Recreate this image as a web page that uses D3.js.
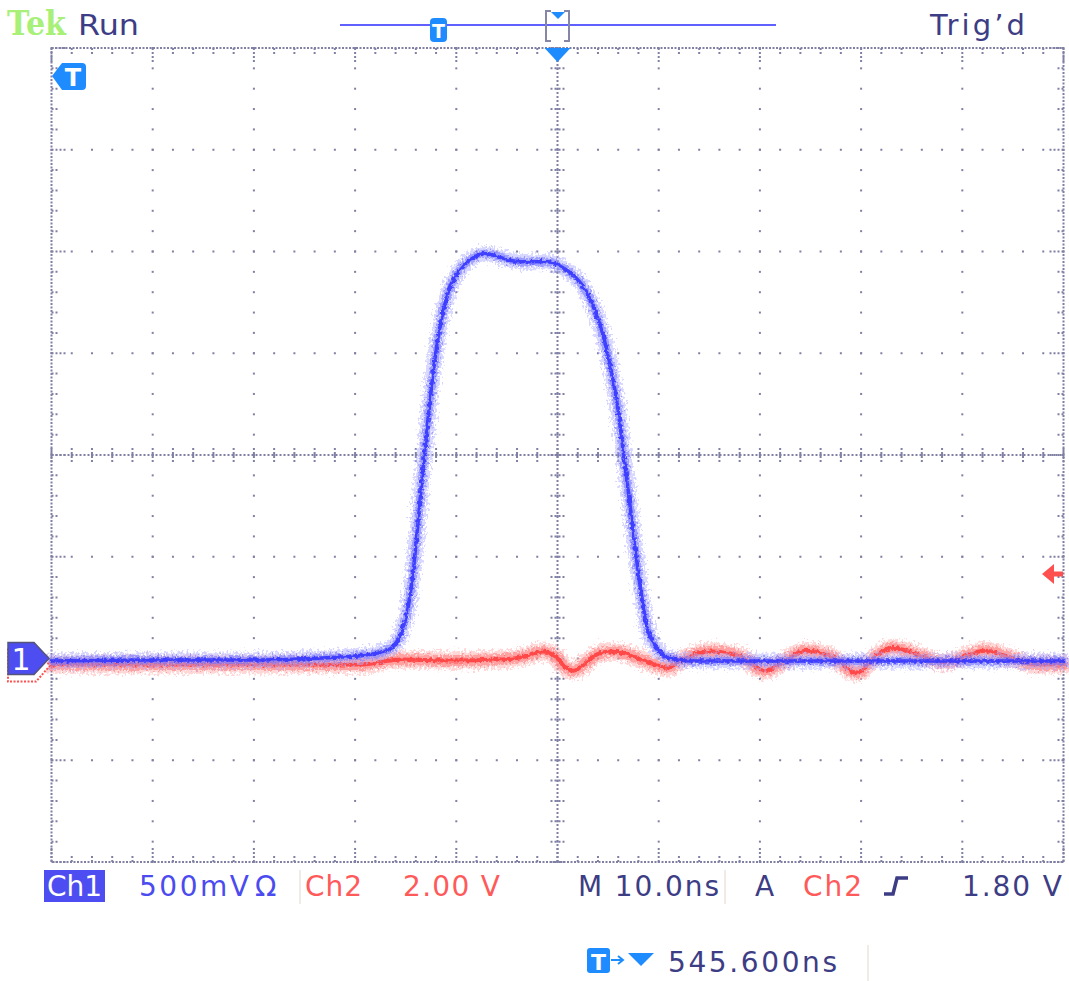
<!DOCTYPE html>
<html>
<head>
<meta charset="utf-8">
<script src="https://cdn.jsdelivr.net/npm/d3@7"></script>
<style>
  body { margin: 0; background: #fff; }
  svg text { font-family: "DejaVu Sans", sans-serif; }
</style>
</head>
<body>
<div id="chart"></div>
<script>
// channel 1 (500 mV/div), time in ns from screen centre
var ch1Time = [-50, -40.3, -30.4, -25.4, -21.5, -19.0, -17.0, -16.1, -15.4, -14.8, -14.3, -13.8, -13.3, -12.8,
  -12.2, -11.5, -10.8, -9.8, -8.6, -7.2, -6.2, -4.9, -3.7, -2.2, -0.9, 0.2, 1.4, 2.5, 3.7, 4.5, 5.2, 5.9,
  6.5, 7.1, 7.7, 8.3, 8.8, 9.4, 10.1, 11.1, 13.1, 24.0, 50];
var ch1Volts = [-0.012, -0.007, -0.007, -0.002, 0.007, 0.017, 0.037, 0.066, 0.13, 0.24, 0.41, 0.66, 0.93, 1.17,
  1.44, 1.66, 1.80, 1.90, 1.96, 1.99, 1.98, 1.96, 1.95, 1.95, 1.95, 1.93, 1.89, 1.83, 1.71, 1.59, 1.44, 1.25,
  1.02, 0.78, 0.53, 0.31, 0.16, 0.086, 0.032, 0.002, -0.012, -0.012, -0.012];

// channel 2 (2.00 V/div)
var ch2Time = [-50, -35, -19.5, -15.6, -10.6, -5.7, -3.2, -1.5, -0.2, 0.7, 1.6, 2.7, 3.9, 5.2, 6.7, 8.2, 9.6,
  10.9, 12.1, 15.1, 18.1, 20.5, 22.5, 24.5, 27.0, 29.6, 31.4, 33.1, 35.8, 38.3, 40.3, 42.2, 44.7, 47.2, 50];
var ch2Volts = [0.02, 0.02, 0.02, 0.12, 0.10, 0.12, 0.18, 0.28, 0.18, -0.02, -0.10, 0.04, 0.22, 0.28, 0.24, 0.12, 0.02,
  -0.04, 0.10, 0.28, 0.18, -0.10, 0.10, 0.29, 0.18, -0.14, 0.18, 0.35, 0.20, 0.06, 0.18, 0.29, 0.16, 0.02, 0.02];

var ch1Scale = 0.5, ch1Pos = -2;      // V/div, divisions
var ch2Scale = 2.0, ch2Pos = -2.07;
var trigLevel = 1.80;

var bottomLabels = [
  {text: "500mV", x0: 139, x1: 249, color: "#4b4bf0"},
  {text: "Ω", x0: 255, x1: 290, color: "#4b4bf0"},
  {text: "Ch2", x0: 305, x1: 362, color: "#ff5a5a"},
  {text: "2.00 V", x0: 403, x1: 500, color: "#ff5a5a"},
  {text: "M 10.0ns", x0: 578, x1: 719, color: "#3d3d85"},
  {text: "A", x0: 755, x1: 776, color: "#3d3d85"},
  {text: "Ch2", x0: 803, x1: 862, color: "#ff5a5a"},
  {text: "1.80 V", x0: 962, x1: 1062, color: "#3d3d85"}
];

var W = 1069, H = 981;
var gLeft = 51.5, gRight = 1063.5, gTop = 48, gBottom = 862;

var x = d3.scaleLinear().domain([-50, 50]).range([gLeft, gRight]);
var yDiv = d3.scaleLinear().domain([-4, 4]).range([gBottom, gTop]);
var y1 = d3.scaleLinear().domain([(-4 - ch1Pos) * ch1Scale, (4 - ch1Pos) * ch1Scale]).range([gBottom, gTop]);
var y2 = d3.scaleLinear().domain([(-4 - ch2Pos) * ch2Scale, (4 - ch2Pos) * ch2Scale]).range([gBottom, gTop]);

var svg = d3.select('#chart').append('svg')
  .attr('width', W).attr('height', H);

svg.append('rect').attr('width', W).attr('height', H).attr('fill', '#fff');

var defs = svg.append('defs');
function noiseFilter(id, freq, scale, seed) {
  var f = defs.append('filter').attr('id', id)
    .attr('filterUnits', 'userSpaceOnUse')
    .attr('x', 0).attr('y', 0).attr('width', W).attr('height', H);
  f.append('feTurbulence').attr('type', 'fractalNoise')
    .attr('baseFrequency', freq).attr('numOctaves', 2).attr('seed', seed).attr('result', 'n');
  f.append('feDisplacementMap').attr('in', 'SourceGraphic').attr('in2', 'n')
    .attr('scale', scale).attr('xChannelSelector', 'R').attr('yChannelSelector', 'G');
}
noiseFilter('noiseWide', '0.45 0.35', 15, 3);
noiseFilter('noiseMid', '0.5 0.4', 10, 7);
noiseFilter('noiseCore', '0.3 0.3', 5, 11);

// ---- graticule ----
var grid = svg.append('g').attr('fill', '#8080a4');
var xMajor = d3.range(0, 11).map(function(i) { return gLeft + i * (gRight - gLeft) / 10; });
var yMajor = d3.range(0, 9).map(function(i) { return gTop + i * (gBottom - gTop) / 8; });
var xMinor = d3.range(0, 51).map(function(i) { return gLeft + i * (gRight - gLeft) / 50; });
var yMinor = d3.range(0, 41).map(function(i) { return gTop + i * (gBottom - gTop) / 40; });

// dots along each interior grid line
var pts = [];
xMajor.slice(1, 10).forEach(function(gx) { yMinor.forEach(function(gy) { pts.push([gx, gy]); }); });
yMajor.slice(1, 8).forEach(function(gy) { xMinor.forEach(function(gx) { pts.push([gx, gy]); }); });
grid.selectAll('rect.dot').data(pts).enter().append('rect')
  .attr('class', 'dot')
  .attr('x', function(d) { return d[0] - 1; })
  .attr('y', function(d) { return d[1] - 1; })
  .attr('width', 2).attr('height', 2);

// border
svg.append('rect')
  .attr('x', gLeft).attr('y', gTop)
  .attr('width', gRight - gLeft).attr('height', gBottom - gTop)
  .attr('fill', 'none').attr('stroke', '#8080a4').attr('stroke-width', 2)
  .attr('stroke-dasharray', '2 1.5');

// border ticks
var ticks = svg.append('g').attr('stroke', '#8080a4').attr('stroke-width', 2).attr('stroke-dasharray', '2 2');
function isMajor(i) { return i % 5 === 0; }
xMinor.forEach(function(gx, i) {
  var len = isMajor(i) ? 14 : 6;
  ticks.append('line').attr('x1', gx).attr('x2', gx).attr('y1', gTop).attr('y2', gTop + len);
  ticks.append('line').attr('x1', gx).attr('x2', gx).attr('y1', gBottom).attr('y2', gBottom - len);
});
yMinor.forEach(function(gy, i) {
  var len = isMajor(i) ? 14 : 6;
  ticks.append('line').attr('y1', gy).attr('y2', gy).attr('x1', gLeft).attr('x2', gLeft + len);
  ticks.append('line').attr('y1', gy).attr('y2', gy).attr('x1', gRight).attr('x2', gRight - len);
});

// centre crosshair
var cx = x(0), cy = yDiv(0);
var cross = svg.append('g').attr('stroke', '#8080a4').attr('stroke-width', 2).attr('stroke-dasharray', '2 2');
cross.append('line').attr('x1', gLeft).attr('x2', gRight).attr('y1', cy).attr('y2', cy);
cross.append('line').attr('x1', cx).attr('x2', cx).attr('y1', gTop).attr('y2', gBottom);
xMinor.forEach(function(gx) {
  cross.append('line').attr('x1', gx).attr('x2', gx).attr('y1', cy - 7).attr('y2', cy + 7);
});
yMinor.forEach(function(gy) {
  cross.append('line').attr('y1', gy).attr('y2', gy).attr('x1', cx - 7).attr('x2', cx + 7);
});

// ---- traces ----
function drawTrace(times, volts, ys, colors, widths) {
  var line = d3.line()
    .x(function(d) { return x(d[0]); })
    .y(function(d) { return ys(d[1]); })
    .curve(d3.curveMonotoneX);
  var data = times.map(function(t, i) { return [t, volts[i]]; });
  var g = svg.append('g').attr('fill', 'none').attr('stroke-linejoin', 'round').attr('stroke-linecap', 'round');
  g.append('path').datum(data).attr('d', line)
    .attr('stroke', colors[0]).attr('stroke-width', widths[0]).attr('opacity', 0.5)
    .attr('filter', 'url(#noiseWide)');
  g.append('path').datum(data).attr('d', line)
    .attr('stroke', colors[1]).attr('stroke-width', widths[1]).attr('opacity', 0.55)
    .attr('filter', 'url(#noiseMid)');
  g.append('path').datum(data).attr('d', line)
    .attr('stroke', colors[2]).attr('stroke-width', widths[2]).attr('opacity', 0.9)
    .attr('filter', 'url(#noiseCore)');
}
drawTrace(ch2Time, ch2Volts, y2, ['#ffb0b0', '#ff7474', '#ff4040'], [18, 11, 4]);
drawTrace(ch1Time, ch1Volts, y1, ['#b0b0ff', '#7070ff', '#3434ff'], [15, 8, 3.5]);

// ---- markers ----
// ch2 ground marker (mostly hidden)
var g2y = y2(0);
svg.append('path')
  .attr('d', 'M8,' + (g2y - 16) + ' H36 L50,' + g2y + ' L36,' + (g2y + 16) + ' H8 Z')
  .attr('fill', '#fff').attr('stroke', '#ff5050').attr('stroke-width', 2).attr('stroke-dasharray', '2 1.5');
// ch1 ground marker
var g1y = y1(0);
svg.append('path')
  .attr('d', 'M8,' + (g1y - 16) + ' H34 L49,' + g1y + ' L34,' + (g1y + 16) + ' H8 Z')
  .attr('fill', '#4d4df2').attr('stroke', '#55557a').attr('stroke-width', 1.5);
svg.append('text').attr('x', 21).attr('y', g1y + 11)
  .attr('text-anchor', 'middle').attr('fill', '#fff')
  .style('font-size', '30px').text('1');

// trigger level arrow (right)
var ty = y2(trigLevel);
svg.append('path')
  .attr('d', 'M1042,' + ty + ' L1054,' + (ty - 10) + ' V' + (ty - 2.5) + ' H1063 V' + (ty + 2.5) + ' H1054 V' + (ty + 10) + ' Z')
  .attr('fill', '#ff5050');

// trigger position T (left)
svg.append('path')
  .attr('d', 'M52,76 L62,63 H82 Q86,63 86,67 V86 Q86,90 82,90 H62 Z')
  .attr('fill', '#1e8cff');
svg.append('text').attr('x', 73).attr('y', 86).attr('text-anchor', 'middle')
  .attr('fill', '#fff').style('font-size', '24px').style('font-weight', 'bold').text('T');

// expansion point arrow (top)
svg.append('path')
  .attr('d', 'M' + (cx - 13) + ',' + gTop + ' H' + (cx + 13) + ' L' + cx + ',' + (gTop + 14) + ' Z')
  .attr('fill', '#1e8cff');

// ---- top bar ----
svg.append('line').attr('x1', 340).attr('x2', 776).attr('y1', 25).attr('y2', 25)
  .attr('stroke', '#6060ff').attr('stroke-width', 2);
svg.append('rect').attr('x', 430).attr('y', 18).attr('width', 17).attr('height', 24).attr('rx', 4)
  .attr('fill', '#1e8cff');
svg.append('text').attr('x', 438.5).attr('y', 38).attr('text-anchor', 'middle')
  .attr('fill', '#fff').style('font-size', '19px').style('font-weight', 'bold').text('T');
svg.append('path')
  .attr('d', 'M551,11 H546 V41 H551 M564,11 H569 V41 H564')
  .attr('fill', 'none').attr('stroke', '#8686a6').attr('stroke-width', 2);
svg.append('path').attr('d', 'M551,12 H565 L558,19 Z').attr('fill', '#1e8cff');

svg.append('text').attr('x', 7).attr('y', 35)
  .attr('fill', '#a8f078').style('font-family', '"DejaVu Serif", serif').style('font-weight', 'bold')
  .style('font-size', '34px').attr('textLength', 59).attr('lengthAdjust', 'spacingAndGlyphs').text('Tek');
svg.append('text').attr('x', 78).attr('y', 35)
  .attr('fill', '#3d3d85').style('font-size', '29px')
  .attr('textLength', 61).attr('lengthAdjust', 'spacingAndGlyphs').text('Run');
svg.append('text').attr('x', 930).attr('y', 35)
  .attr('fill', '#3d3d85').style('font-size', '29px')
  .attr('textLength', 95).attr('lengthAdjust', 'spacing').text('Trig\u2019d');

// ---- bottom readout ----
svg.append('rect').attr('x', 44).attr('y', 870).attr('width', 61).attr('height', 32).attr('fill', '#4d4df2');
svg.append('text').attr('x', 47).attr('y', 896).attr('fill', '#fff').style('font-size', '28px')
  .attr('textLength', 55).attr('lengthAdjust', 'spacing').text('Ch1');

svg.selectAll('text.readout').data(bottomLabels).enter().append('text')
  .attr('class', 'readout')
  .attr('x', function(d) { return d.x0; })
  .attr('y', 896)
  .attr('fill', function(d) { return d.color; })
  .style('font-size', '28px')
  .attr('textLength', function(d) { return d.x1 - d.x0; })
  .attr('lengthAdjust', 'spacing')
  .text(function(d) { return d.text; });

// rising edge symbol
svg.append('path').attr('d', 'M884,894 H893 L897,878 H908')
  .attr('fill', 'none').attr('stroke', '#3d3d85').attr('stroke-width', 3.5);

// faint separators
var sep = svg.append('g').attr('stroke', '#f0ebe4').attr('stroke-width', 2);
sep.append('line').attr('x1', 300).attr('x2', 300).attr('y1', 870).attr('y2', 904);
sep.append('line').attr('x1', 725).attr('x2', 725).attr('y1', 870).attr('y2', 904);
sep.append('line').attr('x1', 868).attr('x2', 868).attr('y1', 945).attr('y2', 981);

// trigger position readout
svg.append('rect').attr('x', 587).attr('y', 948).attr('width', 23).attr('height', 25).attr('rx', 3)
  .attr('fill', '#1e8cff');
svg.append('text').attr('x', 598.5).attr('y', 970).attr('text-anchor', 'middle')
  .attr('fill', '#fff').style('font-size', '22px').style('font-weight', 'bold').text('T');
svg.append('path').attr('d', 'M611,960 H622 M618,956 L623,960 L618,964')
  .attr('fill', 'none').attr('stroke', '#1e8cff').attr('stroke-width', 2);
svg.append('path').attr('d', 'M628,953 H654 L641,966 Z').attr('fill', '#1e8cff');
svg.append('text').attr('x', 668).attr('y', 972).attr('fill', '#3d3d85').style('font-size', '28px')
  .attr('textLength', 169).attr('lengthAdjust', 'spacing').text('545.600ns');
</script>
</body>
</html>
